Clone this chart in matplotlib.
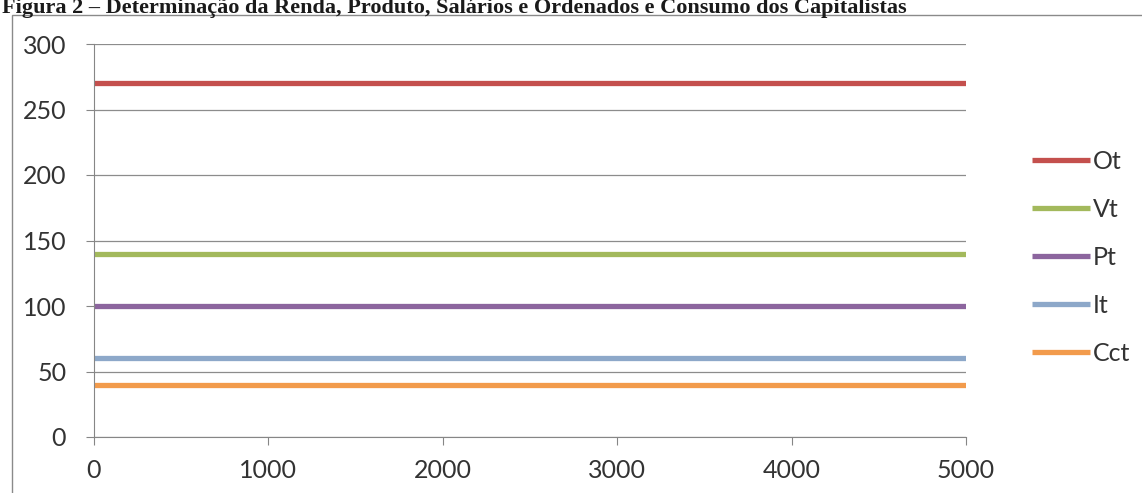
import matplotlib.pyplot as plt
from matplotlib.patches import Rectangle

# periodos (eixo x)
t = [0, 1000, 2000, 3000, 4000, 5000]
# series
Ot = [270, 270, 270, 270, 270, 270]
Vt = [140, 140, 140, 140, 140, 140]
Pt = [100, 100, 100, 100, 100, 100]
It = [60, 60, 60, 60, 60, 60]
Cct = [40, 40, 40, 40, 40, 40]

names = ['Ot', 'Vt', 'Pt', 'It', 'Cct']
series = [Ot, Vt, Pt, It, Cct]
colors = ['#C4504D', '#A3B95C', '#8C659E', '#8DA8C9', '#F29B4C']

W, H = 1142, 493
fig = plt.figure(figsize=(W / 100, H / 100), dpi=100)
ax = fig.add_axes([94 / W, 1 - 437 / H, (966 - 94) / W, (437 - 44) / H])

for name, y, c in zip(names, series, colors):
    ax.plot(t, y, color=c, lw=3.8, label=name, solid_capstyle='butt')

ax.set_xlim(0, 5000)
ax.set_ylim(0, 300)
ax.set_xticks(t)
ax.set_yticks(range(0, 301, 50))
ax.grid(axis='y', color='#8c8c8c', lw=0.9)
ax.set_axisbelow(True)
for s in ['top', 'right']:
    ax.spines[s].set_visible(False)
for s in ['left', 'bottom']:
    ax.spines[s].set_color('#868686')
ax.tick_params(axis='both', direction='out', length=6, color='#868686',
               labelsize=18, labelcolor='#333333')
ax.tick_params(axis='y', pad=14)
ax.tick_params(axis='x', pad=10)
for lab in ax.get_xticklabels() + ax.get_yticklabels():
    lab.set_family('Lato')

leg = ax.legend(loc='center left', bbox_to_anchor=(1.05, 0.457), frameon=False,
                prop={'family': 'Lato', 'size': 18}, handlelength=2.3,
                handletextpad=0.12, labelspacing=1.0)
for txt in leg.get_texts():
    txt.set_color('#333333')

# moldura do grafico
fig.patches.append(Rectangle((12 / W, -0.1), 1.2, 1 - 15 / H + 0.1,
                             transform=fig.transFigure, fill=False,
                             edgecolor='#8a8a8a', lw=1))

fig.text(2 / W, 1 - 13 / H,
         'Figura 2 – Determinação da Renda, Produto, Salários e Ordenados e Consumo dos Capitalistas',
         family='Liberation Serif', weight='bold', size=16, va='baseline', color='#1a1a1a')

fig.savefig('out.png', dpi=100)
